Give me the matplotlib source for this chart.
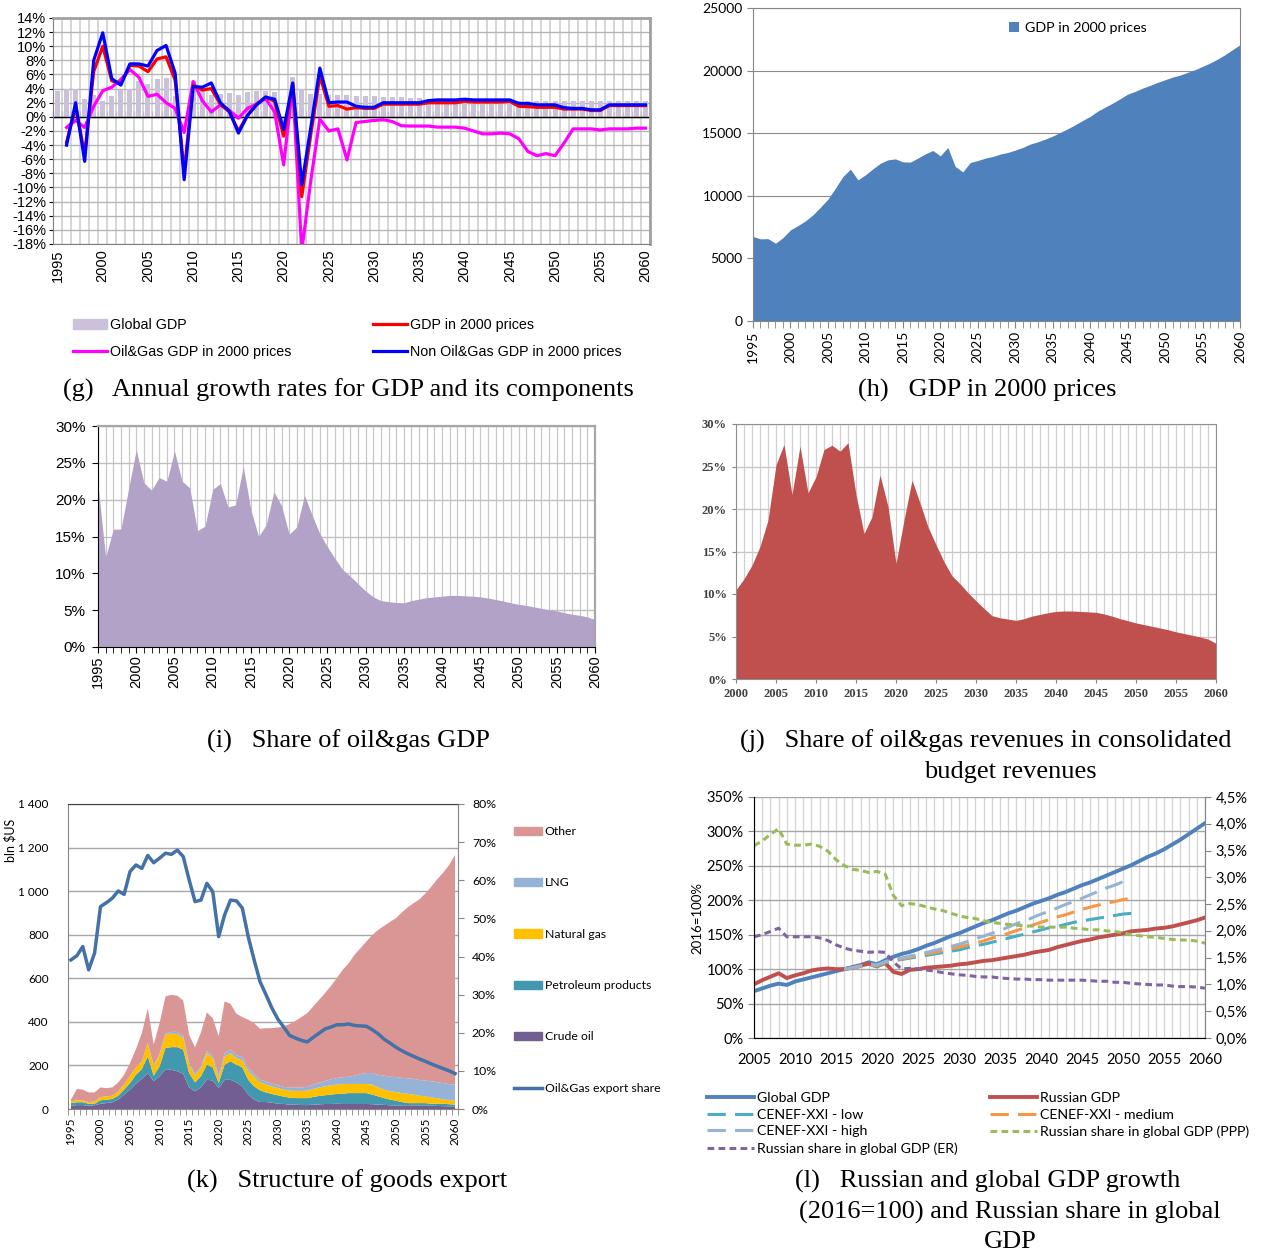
import numpy as np
import matplotlib
matplotlib.use('Agg')
import matplotlib.pyplot as plt
from matplotlib.patches import Patch
from matplotlib.lines import Line2D
from matplotlib.ticker import FuncFormatter

plt.rcParams['font.family'] = ['Liberation Sans', 'DejaVu Sans']

# ---- data -------------------------------------------------------------
years = np.arange(1995, 2061)

# (g) annual growth rates, %
global_gdp = [3.6, 4.0, 4.0, 2.5, 3.1, 2.3, 2.9, 3.8, 4.0, 5.1,
              4.7, 5.3, 5.5, 3.0, -0.1, 5.1, 3.9, 3.1, 3.3, 3.4,
              3.1, 3.5, 3.7, 3.7, 3.5, -3.0, 5.6, 4.0, 3.2, 3.2,
              3.1, 3.1, 3.1, 3.0, 2.9, 2.9, 2.8, 2.8, 2.8, 2.7,
              2.7, 2.6, 2.5, 2.5, 2.5, 2.4, 2.4, 2.4, 2.4, 2.3,
              2.3, 2.3, 2.3, 2.3, 2.3, 2.3, 2.3, 2.3, 2.3, 2.3,
              2.3, 2.3, 2.3, 2.3, 2.3, 2.3]
gdp_growth = [np.nan, -3.6, 1.4, -5.3, 6.4, 10.0, 5.1, 4.7, 7.3, 7.2,
              6.4, 8.2, 8.5, 5.2, -7.8, 4.5, 3.8, 4.0, 1.8, 0.7,
              -2.0, 0.2, 1.8, 2.8, 2.2, -2.7, 4.7, -11.3, -2.5, 5.8,
              1.5, 1.6, 1.1, 1.3, 1.2, 1.2, 1.8, 1.8, 1.8, 1.8,
              1.8, 2.0, 2.0, 2.0, 2.0, 2.2, 2.1, 2.1, 2.1, 2.1,
              2.2, 1.5, 1.45, 1.35, 1.35, 1.35, 1.1, 1.1, 1.1, 0.9,
              0.9, 1.6, 1.6, 1.6, 1.6, 1.6]
oilgas_growth = [np.nan, -1.5, -0.5, -1.5, 1.5, 3.7, 4.2, 5.3, 6.7, 5.6,
                 2.9, 3.2, 2.0, 1.2, -2.2, 5.0, 2.3, 0.7, 1.7, 0.9,
                 -0.2, 1.2, 1.8, 2.6, 0.7, -6.8, 4.5, -19.0, -9.0, -0.3,
                 -2.0, -1.7, -6.1, -0.8, -0.65, -0.5, -0.4, -0.65, -1.25, -1.3,
                 -1.3, -1.3, -1.45, -1.45, -1.45, -1.6, -2.0, -2.4, -2.4, -2.3,
                 -2.4, -3.1, -4.9, -5.5, -5.2, -5.5, -3.7, -1.7, -1.7, -1.7,
                 -1.85, -1.7, -1.7, -1.7, -1.6, -1.6]
non_oilgas_growth = [np.nan, -4.0, 2.0, -6.3, 8.0, 11.9, 5.4, 4.5, 7.5, 7.5,
                     7.2, 9.4, 10.1, 6.2, -8.9, 4.3, 4.2, 4.8, 2.0, 0.8,
                     -2.3, 0.2, 1.7, 2.8, 2.5, -1.8, 4.8, -9.6, -1.5, 6.9,
                     2.0, 2.1, 2.1, 1.5, 1.35, 1.35, 2.0, 2.0, 2.0, 2.0,
                     2.0, 2.3, 2.4, 2.4, 2.4, 2.5, 2.4, 2.4, 2.4, 2.4,
                     2.4, 1.9, 1.9, 1.7, 1.7, 1.7, 1.3, 1.2, 1.2, 1.0,
                     1.0, 1.7, 1.7, 1.7, 1.7, 1.7]

# (h) GDP in 2000 prices
gdp_2000 = [6750, 6560, 6580, 6210, 6660, 7280, 7620, 8000, 8480, 9090,
            9730, 10610, 11540, 12130, 11270, 11670, 12150, 12600, 12870, 12950,
            12710, 12690, 13010, 13350, 13620, 13190, 13860, 12340, 11910, 12660,
            12820, 13010, 13140, 13330, 13460, 13650, 13860, 14130, 14310, 14530,
            14770, 15060, 15350, 15670, 16020, 16340, 16760, 17080, 17400, 17750,
            18120, 18340, 18600, 18820, 19060, 19270, 19480, 19640, 19860, 20070,
            20340, 20600, 20920, 21270, 21670, 22070]

# (i) share of oil&gas in GDP, %
oilgas_gdp_share = [22.0, 12.2, 16.0, 16.0, 21.5, 26.8, 22.3, 21.3, 23.0, 22.5,
                    26.6, 22.5, 21.6, 15.8, 16.4, 21.4, 22.2, 19.0, 19.3, 24.5,
                    18.6, 15.0, 16.6, 21.1, 19.2, 15.3, 16.3, 20.6, 17.9, 15.4,
                    13.6, 12.0, 10.5, 9.6, 8.6, 7.6, 6.8, 6.3, 6.15, 6.05,
                    6.0, 6.3, 6.5, 6.7, 6.8, 6.9, 7.0, 7.0, 6.95, 6.9,
                    6.8, 6.65, 6.45, 6.25, 6.0, 5.8, 5.65, 5.45, 5.25, 5.05,
                    4.9, 4.65, 4.45, 4.3, 4.1, 3.7]

# (j) share of oil&gas revenues in budget, %
budget_years = np.arange(2000, 2061)
oilgas_budget_share = [10.5, 11.8, 13.4, 15.6, 18.7, 25.2, 27.6, 21.7, 27.4, 21.9,
                       23.8, 27.0, 27.5, 26.8, 27.8, 21.7, 17.1, 19.1, 24.0, 20.3,
                       13.6, 18.7, 23.4, 20.7, 17.9, 15.8, 13.8, 12.15, 11.2, 10.15,
                       9.2, 8.3, 7.45, 7.2, 7.05, 6.9, 7.1, 7.4, 7.6, 7.8,
                       7.95, 8.0, 8.0, 7.95, 7.9, 7.85, 7.65, 7.4, 7.1, 6.85,
                       6.6, 6.4, 6.2, 6.0, 5.8, 5.55, 5.35, 5.15, 4.95, 4.7, 4.2]

# (k) goods export, bln $US
crude_oil = [15, 18, 18, 15, 17, 24, 27, 31, 43, 66,
             89, 116, 138, 165, 127, 150, 183, 180, 173, 162,
             99, 81, 99, 134, 131, 96, 134, 134, 122, 104,
             66, 43, 32, 32, 29, 24, 23, 20, 20, 18,
             18, 20, 21, 23, 23, 24, 23, 23, 23, 23,
             23, 22, 20, 19, 17, 15, 17, 17, 16, 16,
             15, 15, 14, 13, 12, 12]
petroleum = [12, 13, 13, 9, 7, 16, 16, 15, 18, 23,
             30, 41, 45, 76, 26, 46, 97, 104, 111, 110,
             66, 41, 51, 69, 60, 23, 69, 85, 81, 87,
             68, 61, 54, 44, 40, 39, 34, 32, 30, 32,
             32, 35, 39, 40, 43, 45, 47, 50, 50, 50,
             50, 44, 38, 31, 26, 23, 15, 10, 11, 11,
             12, 9, 10, 11, 10, 8]
natural_gas = [8, 9, 9, 8, 11, 15, 15, 15, 20, 23,
               34, 34, 36, 62, 43, 53, 61, 62, 60, 54,
               38, 31, 38, 54, 43, 23, 38, 38, 30, 32,
               40, 43, 36, 36, 35, 33, 32, 32, 33, 33,
               34, 37, 39, 41, 43, 43, 45, 42, 42, 42,
               42, 46, 41, 39, 38, 40, 41, 43, 39, 34,
               31, 29, 25, 20, 19, 18]
lng = [0, 0, 0, 0, 0, 0, 0, 0, 0, 0,
       0, 0, 0, 0, 4, 5, 6, 8, 10, 10,
       8, 8, 8, 10, 10, 10, 15, 16, 15, 15,
       15, 14, 13, 13, 13, 13, 13, 14, 15, 16,
       18, 20, 22, 24, 27, 30, 31, 33, 38, 45,
       50, 53, 58, 64, 67, 69, 70, 71, 72, 72,
       73, 74, 74, 75, 73, 74]
other_goods = [8, 52, 49, 44, 41, 44, 38, 38, 41, 45,
               58, 84, 129, 160, 95, 140, 170, 170, 166, 162,
               130, 122, 156, 176, 173, 182, 238, 210, 189, 184,
               221, 233, 233, 246, 254, 265, 277, 292, 307, 323,
               338, 359, 380, 404, 429, 459, 493, 521, 555, 578,
               604, 634, 665, 688, 711, 729, 759, 785, 807, 830,
               859, 894, 932, 966, 1006, 1054]
oilgas_export_share = [39.1, 40.2, 42.6, 36.5, 40.9, 53.1, 54.1, 55.3, 57.2, 56.3,
                       62.3, 64.0, 63.1, 66.5, 64.6, 65.8, 67.1, 66.8, 67.9, 66.2,
                       60.1, 54.4, 54.8, 59.2, 57.0, 45.2, 50.9, 54.8, 54.6, 52.7,
                       45.2, 39.1, 33.4, 30.0, 26.5, 23.6, 21.5, 19.3, 18.6, 18.0,
                       17.6, 18.8, 19.9, 21.0, 21.5, 22.1, 22.1, 22.3, 21.9, 21.8,
                       21.7, 20.8, 19.7, 18.3, 17.3, 16.2, 15.3, 14.5, 13.8, 13.1,
                       12.5, 11.8, 11.2, 10.6, 10.0, 9.3]

# (l) GDP indices (2016=100%) and Russian share in global GDP
idx_years = np.arange(2005, 2061)
global_idx = [68, 72, 76, 79, 77, 82, 85, 88, 91, 94,
              97, 100, 103, 106, 110, 107, 113, 118, 122, 125,
              129, 134, 138, 143, 148, 152, 157, 162, 167, 171,
              176, 181, 185, 190, 195, 199, 203, 208, 212, 217,
              222, 226, 231, 236, 241, 246, 251, 257, 263, 268,
              274, 281, 288, 296, 304, 312]
russia_idx = [78, 84, 89, 94, 87, 91, 94, 98, 100, 101,
              100, 100, 102, 105, 108, 104, 109, 96, 93, 99,
              100, 102, 103, 104, 105, 107, 108, 110, 112, 113,
              115, 117, 119, 121, 124, 126, 128, 132, 135, 138,
              141, 143, 146, 148, 150, 152, 155, 156, 157, 159,
              160, 162, 165, 168, 171, 175]
cenef_years = np.arange(2016, 2052)
cenef_low = [100, 102, 104, 106, 104, 109, 112, 114, 116, 118,
             120, 122, 124, 126, 128, 131, 134, 136, 139, 142,
             145, 148, 151, 154, 157, 160, 162, 165, 168, 170,
             172, 174, 176, 178, 180, 181]
cenef_medium = [100, 102, 104, 107, 105, 110, 113, 115, 117, 120,
                122, 124, 127, 129, 132, 135, 138, 141, 145, 148,
                152, 156, 160, 164, 168, 172, 176, 179, 183, 187,
                190, 193, 196, 198, 201, 203]
cenef_high = [100, 102, 105, 108, 106, 111, 114, 116, 119, 121,
              124, 127, 130, 133, 136, 140, 144, 148, 152, 156,
              161, 166, 170, 175, 180, 184, 189, 194, 198, 203,
              208, 213, 218, 222, 227, 230]
share_ppp = [3.59, 3.68, 3.80, 3.91, 3.62, 3.60, 3.60, 3.62, 3.58, 3.49,
             3.33, 3.22, 3.15, 3.13, 3.09, 3.11, 3.06, 2.66, 2.47, 2.51,
             2.49, 2.45, 2.41, 2.38, 2.33, 2.28, 2.25, 2.23, 2.19, 2.16,
             2.14, 2.12, 2.11, 2.09, 2.09, 2.07, 2.07, 2.07, 2.07, 2.05,
             2.04, 2.02, 2.02, 2.00, 1.99, 1.96, 1.93, 1.91, 1.89, 1.88,
             1.86, 1.84, 1.83, 1.83, 1.81, 1.77]
share_er = [1.89, 1.93, 1.99, 2.05, 1.89, 1.89, 1.89, 1.89, 1.87, 1.82,
            1.74, 1.68, 1.64, 1.62, 1.60, 1.61, 1.60, 1.42, 1.29, 1.30,
            1.29, 1.27, 1.25, 1.22, 1.20, 1.18, 1.17, 1.15, 1.14, 1.14,
            1.12, 1.11, 1.10, 1.10, 1.09, 1.09, 1.08, 1.08, 1.08, 1.08,
            1.08, 1.07, 1.06, 1.06, 1.04, 1.04, 1.02, 1.01, 1.00, 0.99,
            0.99, 0.97, 0.96, 0.96, 0.95, 0.93]

# ---- layout -----------------------------------------------------------
W, H = 1264, 1253
fig = plt.figure(figsize=(W / 100, H / 100), dpi=100)


def panel(l, t, r, b):
    # axes from pixel box (left, top, right, bottom)
    return fig.add_axes([l / W, 1 - b / H, (r - l) / W, (b - t) / H])


def caption(x, y, s):
    fig.text(x / W, 1 - y / H, s, ha='center', va='center',
             fontsize=19, family='Liberation Serif')


pct = FuncFormatter(lambda v, p: f'{v:.0f}%')
five_years = np.arange(1995, 2061, 5)

# ---- (g) growth rates ------------------------------------------------
ax = panel(53, 18, 650, 244)
ax.bar(years, global_gdp, width=0.55, color='#ccc1da', zorder=2)
ax.axhline(0, color='black', lw=1, zorder=2.5)
ax.plot(years, oilgas_growth, color='#ff00ff', lw=2.3, zorder=3)
ax.plot(years, gdp_growth, color='#ff0000', lw=2.3, zorder=4)
ax.plot(years, non_oilgas_growth, color='#0000ff', lw=2.3, zorder=5)
ax.set_xlim(1994.5, 2060.5)
ax.set_ylim(-18, 14)
ax.set_yticks(np.arange(-18, 15, 2))
ax.yaxis.set_major_formatter(pct)
ax.set_xticks(five_years)
ax.set_xticks(np.arange(1994.5, 2061, 1), minor=True)
ax.grid(axis='x', which='minor', color='#d3d3d3', lw=1.3)
ax.grid(axis='y', which='major', color='#b5b5b5', lw=1)
ax.set_axisbelow(True)
ax.tick_params(axis='x', which='both', length=0, labelsize=10.5, labelrotation=90, pad=4)
ax.tick_params(axis='y', length=3, labelsize=10.5, pad=2)
for s in ('left', 'bottom'):
    ax.spines[s].set_color('#808080')
for s in ('top', 'right'):
    ax.spines[s].set_color('#a0a0a0')
    ax.spines[s].set_linewidth(2)
zero = ax.secondary_xaxis(18 / 32)
zero.set_xticks(np.arange(1994.5, 2061, 1))
zero.tick_params(length=4, direction='out', labelbottom=False, labeltop=False, color='black')
zero.spines['bottom'].set_color('black')

g_legend = dict(loc='upper left', frameon=False, fontsize=10.3, borderpad=0,
                handlelength=2.4, handletextpad=0.2, labelspacing=0.9)
fig.legend([Patch(color='#ccc1da'), Line2D([], [], color='#ff00ff', lw=2.3)],
           ['Global GDP', 'Oil&Gas GDP in 2000 prices'],
           bbox_to_anchor=(66 / W, 1 - 311 / H), **g_legend)
fig.legend([Line2D([], [], color='#ff0000', lw=2.3), Line2D([], [], color='#0000ff', lw=2.3)],
           ['GDP in 2000 prices', 'Non Oil&Gas GDP in 2000 prices'],
           bbox_to_anchor=(366 / W, 1 - 311 / H), **g_legend)
caption(348, 390, '(g)   Annual growth rates for GDP and its components')

# ---- (h) GDP in 2000 prices -----------------------------------------
ax = panel(753, 8, 1240, 321)
ax.fill_between(years, 0, gdp_2000, color='#4f81bd', lw=0, zorder=2,
                label='GDP in 2000 prices')
ax.set_xlim(1995, 2060)
ax.set_ylim(0, 25000)
ax.set_yticks(range(0, 25001, 5000))
ax.grid(axis='y', color='#8c8c8c', lw=0.8)
ax.set_axisbelow(True)
ax.set_xticks(five_years)
ax.set_xticks(years, minor=True)
ax.tick_params(axis='x', which='both', length=5, color='#868686',
               labelrotation=90, labelsize=10, labelfontfamily='Lato', pad=2)
ax.tick_params(axis='y', length=4, color='#868686', labelsize=10,
               labelfontfamily='Lato')
for s in ax.spines.values():
    s.set_color('#868686')
ax.legend(loc='upper left', bbox_to_anchor=(0.50, 0.998), frameon=False,
          handlelength=0.7, handleheight=0.7, handletextpad=0.4,
          prop={'family': 'Lato', 'size': 10.3})
caption(987, 390, '(h)   GDP in 2000 prices')

# ---- (i) oil&gas share of GDP -----------------------------------------
ax = panel(98, 426, 595, 647)
ax.fill_between(years, 0, oilgas_gdp_share, color='#b3a2c7', lw=0, zorder=2)
ax.set_xlim(1995, 2060)
ax.set_ylim(0, 30)
ax.set_yticks(range(0, 31, 5))
ax.yaxis.set_major_formatter(pct)
ax.set_xticks(five_years)
ax.set_xticks(years, minor=True)
ax.grid(axis='x', which='both', color='#c8c8c8', lw=0.9)
ax.grid(axis='y', color='#c0c0c0', lw=1)
ax.set_axisbelow(True)
ax.tick_params(axis='x', which='both', length=4, labelrotation=90, labelsize=10.5, pad=2)
ax.tick_params(axis='y', length=4, labelsize=11, pad=5)
for s in ('top', 'right'):
    ax.spines[s].set_color('#a6a6a6')
    ax.spines[s].set_linewidth(1.6)
caption(348, 741, '(i)   Share of oil&gas GDP')

# ---- (j) oil&gas share of budget revenues ------------------------------
ax = panel(736, 424, 1216, 679)
ax.fill_between(budget_years, 0, oilgas_budget_share, color='#c0504d', lw=0, zorder=2)
ax.set_xlim(2000, 2060)
ax.set_ylim(0, 30)
ax.set_yticks(range(0, 31, 5))
ax.yaxis.set_major_formatter(pct)
ax.set_xticks(range(2000, 2061, 5))
ax.set_xticks(budget_years, minor=True)
ax.grid(axis='x', which='both', color='#d0d0d0', lw=0.9)
ax.grid(axis='y', color='#c8c8c8', lw=1)
ax.set_axisbelow(True)
ax.tick_params(which='both', length=3, color='#868686')
ax.tick_params(axis='x', which='minor', length=0)
for lab in ax.get_xticklabels() + ax.get_yticklabels():
    lab.set_family('Liberation Serif')
    lab.set_fontweight('bold')
    lab.set_fontsize(9)
    lab.set_color('#404040')
for s in ax.spines.values():
    s.set_color('#909090')
caption(986, 741, '(j)   Share of oil&gas revenues in consolidated')
caption(1010, 772, 'budget revenues')

# ---- (k) goods export structure ----------------------------------------
k_colors = ['#725e91', '#4198af', '#ffc000', '#95b3d7', '#d99694']
ax = panel(68, 804, 458, 1109)
ax.stackplot(years, crude_oil, petroleum, natural_gas, lng, other_goods,
             colors=k_colors, lw=0, zorder=2)
ax.set_xlim(1994.5, 2060.5)
ax.set_ylim(0, 1400)
ax.set_yticks(range(0, 1401, 200))
ax.yaxis.set_major_formatter(FuncFormatter(lambda v, p: f'{int(v):,}'.replace(',', ' ')))
ax.grid(axis='y', color='#a6a6a6', lw=1)
ax.set_axisbelow(True)
ax.set_xticks(five_years)
ax.set_xticks(np.arange(1994.5, 2061, 1), minor=True)
ax.tick_params(axis='x', which='major', length=0, labelrotation=90, pad=6)
ax.tick_params(axis='x', which='minor', length=4, color='#868686')
ax.tick_params(axis='y', length=0, pad=14)
ax.tick_params(labelsize=8.5, labelfontfamily='Lato')
ax.spines['top'].set_color('#404040')
for s in ('left', 'right', 'bottom'):
    ax.spines[s].set_color('#868686')
ax2 = ax.twinx()
ax2.plot(years, oilgas_export_share, color='#4472a8', lw=2.5, zorder=5)
ax2.set_ylim(0, 80)
ax2.set_yticks(range(0, 81, 10))
ax2.yaxis.set_major_formatter(pct)
ax2.tick_params(axis='y', length=4, color='#868686', labelsize=8.8,
                labelfontfamily='Lato', pad=6)
for s in ax2.spines.values():
    s.set_visible(False)
fig.text(10 / W, 1 - 840 / H, 'bln $US', rotation=90, ha='center', va='center',
         fontsize=9, family='Lato')

k_handles = [Patch(color=c) for c in k_colors[::-1]]
k_handles.append(Line2D([], [], color='#4472a8', lw=2.5))
fig.legend(k_handles, ['Other', 'LNG', 'Natural gas', 'Petroleum products',
                       'Crude oil', 'Oil&Gas export share'],
           loc='upper left', bbox_to_anchor=(508 / W, 1 - 820 / H), frameon=False,
           prop={'family': 'Lato', 'size': 8.8}, borderpad=0,
           handlelength=2.3, handleheight=0.7, handletextpad=0.2, labelspacing=3.3)
caption(347, 1181, '(k)   Structure of goods export')

# ---- (l) GDP growth and Russian share ----------------------------------
ax = panel(754, 797, 1205, 1038)
l_global, = ax.plot(idx_years, global_idx, color='#4f81bd', lw=2.8, zorder=3)
l_russia, = ax.plot(idx_years, russia_idx, color='#c0504d', lw=2.8, zorder=3)
l_low, = ax.plot(cenef_years, cenef_low, color='#4bacc6', lw=2.2, dashes=(6, 3), zorder=4)
l_med, = ax.plot(cenef_years, cenef_medium, color='#f79646', lw=2.2, dashes=(6, 3), zorder=4)
l_high, = ax.plot(cenef_years, cenef_high, color='#95b3d7', lw=2.2, dashes=(6, 3), zorder=4)
ax.set_xlim(2005, 2060)
ax.set_ylim(0, 350)
ax.set_yticks(range(0, 351, 50))
ax.yaxis.set_major_formatter(pct)
ax.set_xticks(range(2005, 2061, 5))
ax.set_xticks(idx_years, minor=True)
ax.grid(axis='x', which='both', color='#d4d4d4', lw=0.9)
ax.grid(axis='y', color='#a6a6a6', lw=1)
ax.set_axisbelow(True)
ax.tick_params(axis='x', which='both', length=0, pad=11)
ax.tick_params(axis='y', length=4, color='#868686')
ax.tick_params(labelsize=10.5, labelfontfamily='Lato')
ax.spines['top'].set_visible(False)
for s in ('left', 'right', 'bottom'):
    ax.spines[s].set_color('#868686')
ax.set_ylabel('2016=100%', fontsize=9.5, family='Lato', labelpad=2)
axr = ax.twinx()
l_ppp, = axr.plot(idx_years, share_ppp, color='#9bbb59', lw=2.2, dashes=(2.2, 1.4))
l_er, = axr.plot(idx_years, share_er, color='#8064a2', lw=2.2, dashes=(2.2, 1.4))
axr.set_ylim(0, 4.5)
axr.set_yticks(np.arange(0, 4.51, 0.5))
axr.yaxis.set_major_formatter(FuncFormatter(lambda v, p: f'{v:.1f}%'.replace('.', ',')))
axr.tick_params(axis='y', length=4, color='#868686', labelsize=10.5,
                labelfontfamily='Lato')
axr.spines['top'].set_visible(False)
axr.spines['right'].set_color('#868686')

l_legend = dict(loc='upper left', frameon=False, prop={'family': 'Lato', 'size': 10.2},
                borderpad=0, handlelength=3.3, handletextpad=0.25, labelspacing=0.33)
fig.legend([l_global, l_low, l_high, l_er],
           ['Global GDP', 'CENEF-XXI - low', 'CENEF-XXI - high',
            'Russian share in global GDP (ER)'],
           bbox_to_anchor=(700 / W, 1 - 1085 / H), **l_legend)
fig.legend([l_russia, l_med, l_ppp],
           ['Russian GDP', 'CENEF-XXI - medium', 'Russian share in global GDP (PPP)'],
           bbox_to_anchor=(983 / W, 1 - 1085 / H), **l_legend)
caption(988, 1181, '(l)   Russian and global GDP growth')
caption(1010, 1212, '(2016=100) and Russian share in global')
caption(1010, 1242, 'GDP')

fig.savefig('out.png', dpi=100)
